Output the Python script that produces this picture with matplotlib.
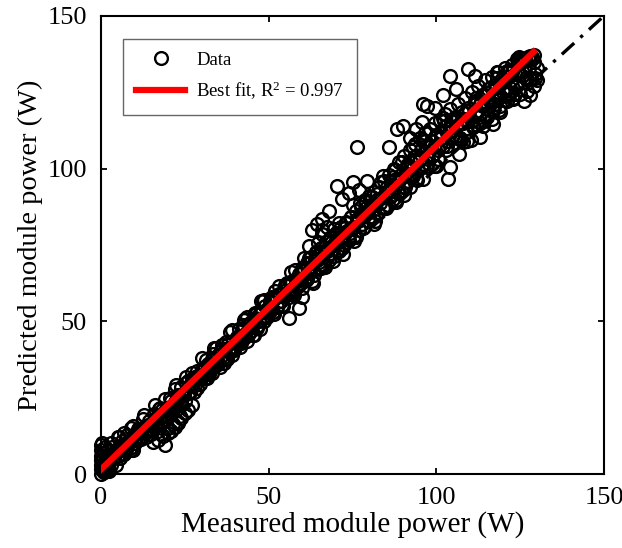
import matplotlib
matplotlib.use('Agg')
import matplotlib.pyplot as plt
import numpy as np

plt.rcParams['font.family'] = ['Liberation Serif', 'DejaVu Serif']
plt.rcParams['mathtext.fontset'] = 'custom'
plt.rcParams['mathtext.rm'] = 'Liberation Serif'
plt.rcParams['mathtext.it'] = 'Liberation Serif:italic'

# measured vs predicted module power (W)
meas_power = [
    0, 0, 0, 0, 0, 0, 0, 0.5, 0.5, 1, 1, 1, 1.5, 2, 2, 2.5, 3, 3, 0.3, 1.2, 2, 3,
    4, 4.5, 5, 5.5, 6, 6.5, 7, 7.5, 8, 8.5, 9, 9.5, 10, 10.5, 11, 11.5, 12, 12.5,
    13, 13.5, 14, 14.5, 15, 15.4, 15.5, 16, 16.5, 17, 17.5, 18, 18.5, 19, 19,
    19.5, 20, 20.5, 21, 21.5, 22, 22.5, 22.9, 23, 23.5, 24, 24.5, 25,
    17, 18, 20, 21, 22, 24, 25, 26, 27, 23, 5, 7, 9,
    26, 26.5, 27, 27.5, 28, 28.5, 29, 29.5, 30, 30.5, 31, 31.5, 32, 32.5, 33,
    33.5, 34, 34.5, 35, 35.5, 36, 36.5, 37, 37.5, 38, 38.5, 39, 39.5, 40, 40.5,
    41, 41.5, 42, 42.5, 43, 43.5, 44, 44.5, 45, 45.5, 46, 46.5, 47, 47.5, 48,
    48.5, 49, 49.5, 50, 50.5, 51, 51.5, 52, 52.5, 53, 53.5, 54, 54.5, 55, 55.5,
    56, 56.5, 57, 57.5, 58, 58.5, 59, 59.5, 60, 60,
    56, 59, 60, 48.5, 42.5, 62, 64.5, 67.5,
    60.5, 61, 61.5, 62, 62.5, 63, 63.5, 64, 64.5, 65, 65.5, 66, 66.5, 67, 67.5,
    68, 68.5, 69, 69.5, 70, 70.5, 71, 71.5, 72, 72.5, 73, 73.5, 74, 74.5, 75,
    75.5, 76, 76.5, 77, 77.5, 78, 78.5, 79, 79.5, 80, 80,
    70.3, 75.1, 79.2, 65.8, 76.3, 72, 68, 74, 77, 63, 66,
    80.5, 81, 81.5, 82, 82.5, 83, 83.5, 84, 84.5, 85, 85.5, 86, 86.5, 87, 87.5,
    88, 88.5, 89, 89.5, 90, 90.5, 91, 91.5, 92, 92.5, 93, 93.5, 94, 94.5, 95,
    95.5, 96, 96.5, 97, 97.5, 98, 98.5, 99, 99.5, 100, 100.5, 101, 101.5, 102,
    102.5, 103, 103.5, 104, 104.5, 105,
    88.2, 90, 95.6, 97.1, 95.9, 99.5, 86, 92, 94, 104, 109.3, 111.4, 102, 106,
    103.4, 104, 106.9, 112.9, 116.8, 118.9, 92, 96, 100, 88,
    105.5, 106, 106.5, 107, 107.5, 108, 108.5, 109, 109.5, 110, 110.5, 111,
    111.5, 112, 112.5, 113, 113.5, 114, 114.5, 115, 115.5, 116, 116.5, 117,
    117.5, 118, 118.5, 119, 119.5, 120, 120.5, 121, 121.5, 122, 122.5, 123,
    123.5, 124, 124.5, 125, 125.5, 126, 126.5, 127, 127.5, 128, 128.5, 129,
    129.5, 130, 128, 126, 129, 130, 118, 123.9, 124.8,
]
pred_power = [
    0, 1.5, 3, 4.5, 6, 8, 9.5, 2, 5, 0.5, 3, 7, 1.5, 2.5, 5, 4, 3, 6.5, 10, 9, 8, 10,
    5.5, 8, 6, 12, 8.5, 6.5, 9.5, 8, 10.5, 8.5, 11, 12.5, 10, 13, 11.5, 14, 12, 15,
    13.5, 12, 16, 14.5, 13, 10.5, 17, 15.5, 18.5, 14, 19, 17, 12.5, 9.5, 20.5,
    18, 15, 22, 19.5, 16.5, 23.5, 21, 16.7, 24.5, 19, 22.5, 26, 24,
    11, 13, 13.5, 14, 15.5, 18.5, 20, 21, 22.5, 17, 12, 13.5, 15,
    30.5, 27, 29.5, 31.5, 29, 32, 31, 29.5, 34, 32, 35, 31.5, 36, 34, 33,
    37.5, 35.5, 38.5, 36.5, 35, 40.5, 38, 41, 37.5, 42.5, 40, 39, 43.5, 41.5, 45,
    43, 41.5, 47, 44.5, 46, 43.5, 49, 46.5, 48.5, 45.5, 51, 48.5, 50, 47.5, 53,
    51, 55, 51.5, 53, 56.5, 54.5, 52.5, 57.5, 55, 59, 56.5, 55.5, 60, 58.5, 62,
    59, 63, 60.5, 58.5, 64, 61.5, 65.5, 62.5, 61, 66.5,
    51, 54.5, 58, 57, 50.5, 74.5, 82, 81,
    67, 63.5, 69, 66, 71, 68, 65, 72.5, 70, 67.5, 74, 71, 68.5, 76, 73,
    70, 77.5, 74.5, 71.5, 79, 76, 73, 81, 78, 75, 82.5, 79.5, 76.5, 84, 81,
    78, 86, 83, 80, 87.5, 84.5, 81, 89, 86, 83, 91,
    94.2, 95.5, 95.8, 83.4, 107, 90, 86, 92, 93, 80, 80,
    88, 84, 92.5, 89.5, 85.5, 94, 90.5, 87, 96, 92.5, 88, 98, 94.5, 90, 100,
    96.5, 92, 102, 98, 94, 104, 100, 96, 106, 102, 97.5, 108, 104, 99.5, 110,
    106, 101.5, 111.5, 107.5, 103, 113, 109, 104.5, 115, 111, 106, 116, 112, 107.5,
    118, 114, 109, 119.5, 115.5, 111,
    112.9, 113.9, 115.2, 120.4, 121, 120, 107, 110, 113, 130.3, 132.6, 130.3, 124, 126,
    96.5, 100.4, 104.7, 110.3, 114.5, 118.5, 94, 96.5, 101, 89,
    117, 113.5, 121, 110, 118.5, 115, 123, 112, 120, 116.5, 125, 113.5,
    122, 118.5, 127, 115, 124, 120.5, 129, 117, 126, 122, 130, 119,
    127.5, 123.5, 131.5, 120.5, 128.5, 125, 133, 122, 130, 126.5, 134, 123,
    131, 127.5, 135, 124.5, 132, 128.5, 136, 125.5, 133, 129.5, 136.5, 127,
    131, 133, 124, 122, 135, 129, 131.6, 135.9, 135.9,
]

# second pass over the dense band
meas_extra = [
    0.2, 0.8, 1.6, 2.4, 3.2, 4, 4.8, 5.6, 6.4, 7.2, 8, 8.8, 9.6, 10.4, 11.2, 12,
    12.8, 13.6, 14.4, 15.2, 16, 16.8, 17.6, 18.4, 19.2, 20, 20.8, 21.6, 22.4,
    23.2, 24, 24.8,
    25.4, 26.2, 27, 27.8, 28.6, 29.4, 30.2, 31, 31.8, 32.6, 33.4, 34.2, 35, 35.8,
    36.6, 37.4, 38.2, 39, 39.8, 40.6, 41.4, 42.2, 43, 43.8, 44.6, 45.4, 46.2, 47,
    47.8, 48.6, 49.4, 50.2, 51, 51.8, 52.6, 53.4, 54.2, 55, 55.8, 56.6, 57.4,
    58.2, 59, 59.8,
    60.6, 61.5, 62.4, 63.3, 64.2, 65.1, 66, 66.9, 67.8, 68.7, 69.6, 70.5, 71.4,
    72.3, 73.2, 74.1, 75, 75.9, 76.8, 77.7, 78.6, 79.5, 80.4, 81.3, 82.2, 83.1,
    84, 84.9, 85.8, 86.7, 87.6, 88.5, 89.4, 90.3, 91.2, 92.1, 93, 93.9, 94.8,
    95.7, 96.6, 97.5, 98.4, 99.3, 100.2, 101.1, 102, 102.9, 103.8, 104.7,
    105.4, 106.2, 107, 107.8, 108.6, 109.4, 110.2, 111, 111.8, 112.6, 113.4,
    114.2, 115, 115.8, 116.6, 117.4, 118.2, 119, 119.8, 120.6, 121.4, 122.2, 123,
    123.8, 124.6, 125.4, 126.2, 127, 127.8, 128.6, 129.4,
]
pred_extra = [
    4.2, 0.8, 3.7, 1.0, 8.9, 5.2, 8.1, 5.4, 10.8, 7.6, 10.5, 7.8, 15.7, 12.0,
    14.9, 12.2, 19.3, 14.4, 17.3, 14.6, 22.5, 18.8, 21.7, 19.0, 24.4, 21.2, 24.0,
    21.4, 29.2, 25.6, 28.4, 25.8,
    31.9, 26.8, 31.1, 27.0, 33.8, 31.7, 38.0, 31.4, 35.2, 34.6, 39.4,
    41.3, 36.1, 40.5, 36.3, 43.1, 41.0, 47.3, 40.7, 44.5, 43.9, 48.7,
    50.6, 45.4, 49.8, 45.6, 52.5, 50.3, 56.7, 50.0, 53.9, 53.2, 58.1,
    59.9, 54.8, 59.1, 55.0, 61.8, 59.6, 66.0, 59.3, 63.2, 62.5, 67.4,
    70.7, 63.7, 69.1, 62.6, 72.6, 69.5, 78.5, 67.9, 73.9, 72.3,
    80.3, 73.2, 78.7, 72.1, 82.1, 79.0, 88.0, 77.5, 83.4, 81.9,
    89.8, 82.8, 88.2, 81.7, 91.6, 88.6, 97.5, 87.0, 92.9, 91.4,
    99.4, 92.3, 97.8, 91.2, 101.2, 98.1, 107.1, 96.5, 102.5, 100.9,
    108.9, 101.9, 107.3, 100.8, 110.7, 107.7, 116.6, 106.1, 112.0, 110.5,
    116.2, 110.1, 114.9, 108.8, 118.1, 115.5, 109.3, 114.2,
    123.0, 116.9, 121.7, 115.6, 124.9, 122.3, 116.1, 121.0,
    129.8, 123.6, 128.5, 122.3, 131.7, 129.0, 122.9, 127.7,
    136.6, 130.4, 135.3, 129.1, 137.0, 135.8, 129.7,
]

# third pass, filling the band between the first two
meas_fill = [
    0.6, 1.4, 2.2, 3, 3.8, 4.6, 5.4, 6.2, 7, 7.8, 8.6, 9.4, 10.2, 11, 11.8, 12.6,
    13.4, 14.2, 15, 15.8, 16.6, 17.4, 18.2, 19, 19.8, 20.6, 21.4, 22.2, 23, 23.8,
    24.6, 25.4, 26.2, 27, 27.8, 28.6, 29.4,
    30.6, 31.4, 32.2, 33, 33.8, 34.6, 35.4, 36.2, 37, 37.8, 38.6, 39.4, 40.2, 41,
    41.8, 42.6, 43.4, 44.2, 45, 45.8, 46.6, 47.4, 48.2, 49, 49.8, 50.6, 51.4,
    52.2, 53, 53.8, 54.6, 55.4, 56.2, 57, 57.8, 58.6, 59.4,
    61, 61.9, 62.8, 63.7, 64.6, 65.5, 66.4, 67.3, 68.2, 69.1, 70, 70.9, 71.8,
    72.7, 73.6, 74.5, 75.4, 76.3, 77.2, 78.1, 79, 79.9, 80.8, 81.7, 82.6, 83.5,
    84.4, 85.3, 86.2, 87.1, 88, 88.9, 89.8, 90.7, 91.6, 92.5, 93.4, 94.3, 95.2,
    96.1, 97, 97.9, 98.8, 99.7, 100.6, 101.5, 102.4, 103.3, 104.2,
    105.8, 106.6, 107.4, 108.2, 109, 109.8, 110.6, 111.4, 112.2, 113, 113.8,
    114.6, 115.4, 116.2, 117, 117.8, 118.6, 119.4, 120.2, 121, 121.8, 122.6,
    123.4, 124.2, 125, 125.8, 126.6, 127.4, 128.2, 129,
]
pred_fill = [
    1.1, 4.5, 1.3, 7.7, 5.5, 2.9, 6.2, 9.6, 6.4, 12.8, 10.6, 8.0, 11.3, 14.7,
    11.5, 17.9, 15.7, 13.1, 16.4, 19.8, 16.6, 21.4, 20.8, 18.1, 21.5, 24.8, 21.7,
    28.0, 25.9, 23.2, 26.6, 29.9, 26.8, 33.1, 31.0, 28.3, 31.7,
    32.9, 37.3, 32.6, 37.5, 41.3, 36.2, 38.0, 42.4, 37.7, 42.6, 46.4, 41.3,
    43.1, 47.5, 42.8, 47.7, 51.5, 46.4, 48.2, 52.6, 47.9, 52.7, 56.6, 51.4,
    53.3, 57.6, 53.0, 57.8, 61.7, 56.5, 58.4, 62.7, 58.1, 62.9, 66.8, 61.6, 63.5,
    64.2, 70.6, 63.1, 70.0, 75.5, 67.4, 73.9, 70.8, 77.3, 69.7, 76.7, 82.2,
    74.0, 80.6, 77.4, 84.0, 76.4, 83.4, 88.8, 80.7, 87.2, 84.1, 90.6, 83.0,
    90.0, 95.5, 87.4, 93.9, 90.8, 97.2, 89.7, 96.6, 102.1, 94.0, 100.5, 97.5,
    103.8, 96.4, 103.3, 108.9, 100.7, 107.3, 104.2, 110.5, 103.2, 110.1, 115.5,
    107.4, 113.9,
    110.6, 116.5, 109.3, 116.2, 109.0, 118.9, 115.7, 121.6, 114.4, 121.3, 114.1,
    124.0, 120.8, 126.7, 119.5, 126.4, 119.2, 129.1, 125.9, 131.8, 124.6, 131.5,
    124.3, 134.2, 131.0, 135.9, 129.7, 136.6, 129.4, 137.2,
]

fit_slope = 1.06
fit_intercept = 1.5
fit_range = [0, 129]
r_squared = 0.997

fig = plt.figure(figsize=(6.22, 5.48), dpi=100)
ax = fig.add_axes([0.1624, 0.135, 0.8087, 0.836])

all_x = meas_power + meas_extra + meas_fill
all_y = pred_power + pred_extra + pred_fill
ax.plot(all_x, all_y, 'o', mfc='none', mec='k', mew=1.7, ms=9.2,
        label='Data', clip_on=False, zorder=2)
ax.plot([0, 150], [0, 150], color='k', ls=(0, (5, 2.5, 1, 2.5)), lw=2.4, zorder=3)
fx = np.array(fit_range)
ax.plot(fx, fit_slope * fx + fit_intercept, color='red', lw=4.5,
        label='Best fit, R$^{2}$ = %.3f' % r_squared, zorder=4)

ax.set_xlim(0, 150)
ax.set_ylim(0, 150)
ax.set_xticks([0, 50, 100, 150])
ax.set_yticks([0, 50, 100, 150])
ax.tick_params(direction='in', top=True, right=True, length=4, width=1.3,
               labelsize=19)
ax.tick_params(axis='x', pad=9)
ax.tick_params(axis='y', pad=10)
for s in ax.spines.values():
    s.set_linewidth(1.5)

ax.set_xlabel('Measured module power (W)', fontsize=21, labelpad=2)
ax.set_ylabel('Predicted module power (W)', fontsize=20.5, labelpad=3)

leg = ax.legend(loc='upper left', bbox_to_anchor=(0.044, 0.95), fontsize=13.5,
                fancybox=False, edgecolor='0.4', framealpha=1,
                handlelength=2.6, borderpad=0.7, labelspacing=0.55,
                handletextpad=0.6, borderaxespad=0)
leg.get_frame().set_linewidth(1.0)

plt.savefig('out.png', dpi=100)
